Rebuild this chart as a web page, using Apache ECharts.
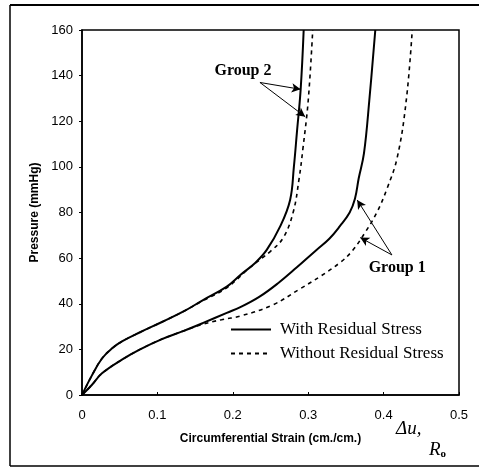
<!DOCTYPE html>
<html>
<head>
<meta charset="utf-8">
<script src="https://cdn.jsdelivr.net/npm/echarts@6/dist/echarts.min.js"></script>
<style>
  html, body { margin: 0; padding: 0; background: #fff; }
  #chart { width: 479px; height: 467px; }
</style>
</head>
<body>
<div id="chart"></div>
<script>
// strain (cm./cm.) and pressure (mmHg)
var g2WithX = [0, 0.013, 0.0265, 0.04, 0.053, 0.077, 0.106, 0.134, 0.16, 0.192, 0.21, 0.23, 0.245, 0.263, 0.276, 0.281, 0.285, 0.29, 0.294];
var g2WithY = [0, 8.5, 16, 20.5, 23.5, 27.5, 32, 36.5, 41.5, 47.5, 52.6, 58, 63.6, 74, 85.5, 100, 115, 134, 160];

var g2WithoutX = [0, 0.013, 0.0265, 0.04, 0.053, 0.077, 0.106, 0.134, 0.16, 0.192, 0.223, 0.25, 0.267, 0.28, 0.288, 0.293, 0.3, 0.306];
var g2WithoutY = [0, 8.5, 16, 20.5, 23.5, 27.5, 32, 36.5, 41.3, 47, 56, 63, 69, 80, 95, 108, 129, 160];

var g1WithX = [0, 0.013, 0.0265, 0.053, 0.077, 0.106, 0.134, 0.16, 0.192, 0.21, 0.235, 0.26, 0.285, 0.311, 0.328, 0.342, 0.355, 0.362, 0.367, 0.374, 0.381, 0.389];
var g1WithY = [0, 4.4, 9.5, 15.5, 20, 24.5, 28, 31.5, 36, 38.5, 43, 49, 56, 63.6, 68.5, 74, 80, 86, 95, 106, 129, 160];

var g1WithoutX = [0, 0.013, 0.0265, 0.053, 0.077, 0.106, 0.134, 0.16, 0.185, 0.21, 0.253, 0.289, 0.316, 0.342, 0.358, 0.375, 0.391, 0.404, 0.418, 0.43, 0.438];
var g1WithoutY = [0, 4.4, 9.5, 15.5, 20, 24.5, 28, 31, 33, 34.6, 39.5, 46.5, 52, 58, 63, 71, 80, 90, 104, 129, 160];

var legendNames = ['With Residual Stress', 'Without Residual Stress'];

// annotation arrows (data coords): [tail, head]
var g2Label = [0.2135, 142];
var g2Arrows = [[[0.236, 137], [0.290, 134]], [[0.236, 137], [0.296, 122]]];
var g1Label = [0.418, 55.7];
var g1Arrows = [[[0.411, 61.4], [0.365, 85.5]], [[0.411, 61.4], [0.369, 69]]];

function pairs(xs, ys) {
    return xs.map(function (x, i) { return [x, ys[i]]; });
}

function arrowLines(list) {
    return list.map(function (a) {
        return [{coord: a[0]}, {coord: a[1]}];
    });
}

var serif = '"Liberation Serif", "DejaVu Serif", serif';
var sans = '"Liberation Sans", Arial, sans-serif';

var arrowStyle = {
    silent: true,
    symbol: ['none', 'arrow'],
    symbolSize: [7, 9],
    label: {show: false},
    lineStyle: {color: '#000', width: 1, type: 'solid'},
    emphasis: {disabled: true}
};

var myChart = echarts.init(document.getElementById('chart'));

var option = {
    animation: false,
    backgroundColor: '#fff',
    grid: {
        left: 82, right: 20, top: 30, bottom: 72,
        show: true, borderColor: '#000', borderWidth: 1.5
    },
    legend: {
        data: legendNames,
        orient: 'vertical',
        left: 230,
        top: 321,
        padding: 0,
        itemWidth: 40,
        itemHeight: 14,
        itemGap: 7,
        itemStyle: {opacity: 0},
        textStyle: {fontFamily: serif, fontSize: 17, color: '#000', padding: [0, 0, 0, 4]}
    },
    xAxis: {
        type: 'value',
        min: 0, max: 0.5, interval: 0.1,
        name: 'Circumferential Strain (cm./cm.)',
        nameLocation: 'middle',
        nameGap: 38,
        nameTextStyle: {fontFamily: sans, fontSize: 12, fontWeight: 'bold', color: '#000'},
        axisLine: {lineStyle: {color: '#000', width: 1.5}},
        axisTick: {inside: true, length: 3, lineStyle: {color: '#000'}},
        axisLabel: {fontFamily: sans, fontSize: 13, color: '#000', margin: 14},
        splitLine: {show: false}
    },
    yAxis: {
        type: 'value',
        min: 0, max: 160, interval: 20,
        name: 'Pressure (mmHg)',
        nameLocation: 'middle',
        nameGap: 41,
        nameTextStyle: {fontFamily: sans, fontSize: 12, fontWeight: 'bold', color: '#000'},
        axisLine: {lineStyle: {color: '#000', width: 1.5}},
        axisTick: {length: 3, lineStyle: {color: '#000'}},
        axisLabel: {fontFamily: sans, fontSize: 13, color: '#000', margin: 9},
        splitLine: {show: false}
    },
    series: [
        {
            name: legendNames[0],
            type: 'line',
            data: pairs(g2WithX, g2WithY),
            symbol: 'none',
            smooth: 0.4,
            lineStyle: {color: '#000', width: 2},
            itemStyle: {color: '#000'},
            markLine: Object.assign({data: arrowLines(g2Arrows)}, arrowStyle),
            markPoint: {
                silent: true,
                symbol: 'circle',
                symbolSize: 0,
                data: [{coord: g2Label}],
                label: {
                    show: true, position: 'inside', formatter: 'Group 2',
                    fontFamily: serif, fontSize: 16, fontWeight: 'bold', color: '#000'
                }
            }
        },
        {
            name: legendNames[1],
            type: 'line',
            data: pairs(g2WithoutX, g2WithoutY),
            symbol: 'none',
            smooth: 0.4,
            lineStyle: {color: '#000', width: 1.6, type: [4, 4]},
            itemStyle: {color: '#000'}
        },
        {
            name: legendNames[0],
            type: 'line',
            data: pairs(g1WithX, g1WithY),
            symbol: 'none',
            smooth: 0.4,
            lineStyle: {color: '#000', width: 2},
            itemStyle: {color: '#000'},
            markLine: Object.assign({data: arrowLines(g1Arrows)}, arrowStyle),
            markPoint: {
                silent: true,
                symbol: 'circle',
                symbolSize: 0,
                data: [{coord: g1Label}],
                label: {
                    show: true, position: 'inside', formatter: 'Group 1',
                    fontFamily: serif, fontSize: 16, fontWeight: 'bold', color: '#000'
                }
            }
        },
        {
            name: legendNames[1],
            type: 'line',
            data: pairs(g1WithoutX, g1WithoutY),
            symbol: 'none',
            smooth: 0.4,
            lineStyle: {color: '#000', width: 1.6, type: [4, 4]},
            itemStyle: {color: '#000'}
        }
    ],
    graphic: [
        // outer frame (left, top, bottom)
        {type: 'line', shape: {x1: 10, y1: 5, x2: 10, y2: 466}, style: {stroke: '#000', lineWidth: 1.5}},
        {type: 'line', shape: {x1: 10, y1: 5, x2: 479, y2: 5}, style: {stroke: '#000', lineWidth: 2}},
        {type: 'line', shape: {x1: 10, y1: 466, x2: 479, y2: 466}, style: {stroke: '#000', lineWidth: 1.5}},
        // Δu / R0 unit note
        {
            type: 'text', left: 396, top: 419,
            style: {text: 'Δu,', font: 'italic 19px ' + serif, fill: '#000'}
        },
        {
            type: 'text', left: 429, top: 440,
            style: {
                text: '{r|R}{s|o}',
                rich: {
                    r: {font: 'italic 19px ' + serif, fill: '#000'},
                    s: {font: 'bold 11px ' + serif, fill: '#000', verticalAlign: 'bottom', padding: [9, 0, 0, 0]}
                }
            }
        }
    ]
};

myChart.setOption(option);
</script>
</body>
</html>
